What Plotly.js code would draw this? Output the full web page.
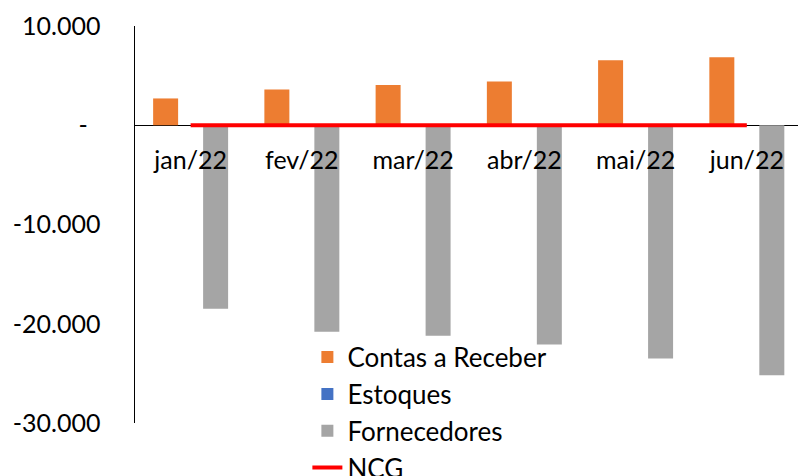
<!DOCTYPE html>
<html>
<head>
<meta charset="utf-8">
<script src="https://cdn.plot.ly/plotly-3.0.1.min.js"></script>
<style>html,body{margin:0;padding:0;background:#fff;}#chart{width:798px;height:476px;}</style>
</head>
<body>
<div id="chart"></div>
<script>
const categories = ["jan/22", "fev/22", "mar/22", "abr/22", "mai/22", "jun/22"];
const contasReceber = [2700, 3600, 4050, 4400, 6550, 6850];
const estoques = [0, 0, 0, 0, 0, 0];
const fornecedores = [-18500, -20800, -21200, -22100, -23500, -25200];
const ncg = [0, 0, 0, 0, 0, 0];
const yTickVals = [10000, 0, -10000, -20000, -30000];
const yTickText = ["10.000", "-\u00a0\u00a0", "-10.000", "-20.000", "-30.000"];

const FONT = "Lato, 'Open Sans', sans-serif";

const traces = [
  {type: "bar", name: "Contas a Receber", x: categories, y: contasReceber, marker: {color: "#ED7D31"}},
  {type: "bar", name: "Estoques", x: categories, y: estoques, marker: {color: "#4472C4"}},
  {type: "bar", name: "Fornecedores", x: categories, y: fornecedores, marker: {color: "#A5A5A5"}},
  {type: "scatter", mode: "lines", name: "NCG", x: categories, y: ncg, line: {color: "#FF0000", width: 4}}
];

const layout = {
  width: 798, height: 476,
  margin: {l: 135, r: 0, t: 26, b: 53, pad: 0, autoexpand: false},
  paper_bgcolor: "#fff", plot_bgcolor: "rgba(0,0,0,0)",
  font: {family: FONT, size: 25, color: "#000"},
  barmode: "group", bargap: 0.326, bargroupgap: 0,
  showlegend: true,
  legend: {x: 0.26, y: 0.225, xanchor: "left", yanchor: "top", bgcolor: "rgba(0,0,0,0)",
           font: {family: FONT, size: 26, color: "#000"}, traceorder: "normal", itemwidth: 30},
  xaxis: {type: "category", range: [-0.5, 5.46], anchor: "free", position: 0.75,
          showline: false, showgrid: false, zeroline: false, ticks: "", ticklabelstandoff: 18,
          tickfont: {family: FONT, size: 25, color: "#000"}, fixedrange: true},
  yaxis: {range: [-30000, 10000], tickvals: yTickVals, ticktext: yTickText,
          showline: true, linecolor: "#000", linewidth: 1.5, showgrid: false,
          zeroline: true, zerolinecolor: "#000", zerolinewidth: 1.5,
          ticks: "", ticklabelstandoff: 28, tickfont: {family: FONT, size: 25, color: "#000"}, fixedrange: true}
};

Plotly.newPlot("chart", traces, layout, {displayModeBar: false, staticPlot: true});
</script>
</body>
</html>
